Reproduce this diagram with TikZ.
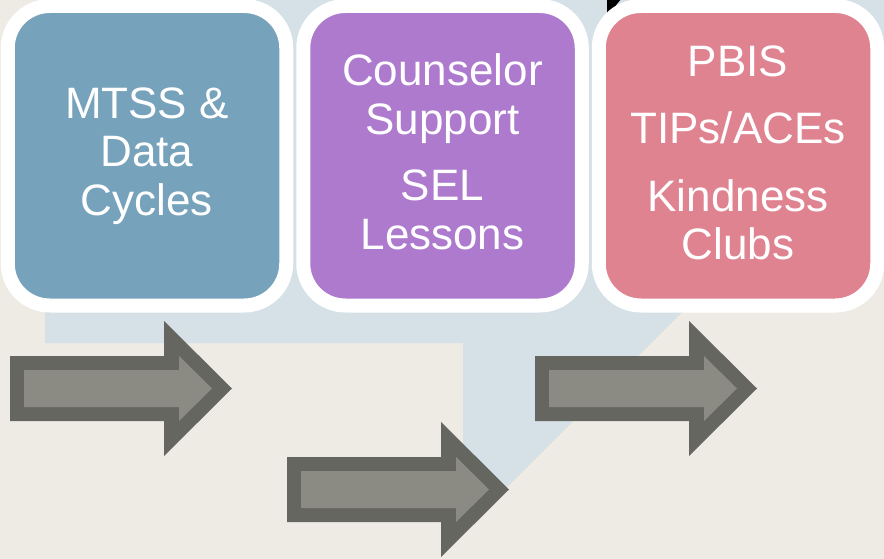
\documentclass[tikz,border=0pt]{standalone}
\usepackage{fontspec}
\setmainfont{Liberation Sans}
\definecolor{bgbeige}{HTML}{EEEBE4}
\definecolor{bandblue}{HTML}{D5E0E7}
\definecolor{boxblue}{HTML}{76A2BB}
\definecolor{boxpurple}{HTML}{AE7ACE}
\definecolor{boxpink}{HTML}{E08391}
\definecolor{arrdark}{HTML}{666661}
\definecolor{arrlight}{HTML}{8B8B84}
\tikzset{
  card/.style={draw=white, line width=14pt, rounded corners=42pt,
    minimum width=278.5pt, minimum height=299.5pt, inner sep=0pt,
    text=white, align=center,
    font=\fontsize{44pt}{48.5pt}\selectfont},
  pics/blockarrow/.style={code={
    \fill[arrdark] (0,0) -- (154,0) -- (154,-35) -- (222,32.5) -- (154,100)
      -- (154,65) -- (0,65) -- cycle;
    \fill[arrlight] (14,14) -- (169,14) -- (169,0) -- (202,32.5) -- (169,65)
      -- (169,51) -- (14,51) -- cycle;
  }}
}
\begin{document}
\begin{tikzpicture}[x=1pt,y=-1pt]
\useasboundingbox (0,0) rectangle (884,559);
\clip (0,0) rectangle (884,559);
\fill[bgbeige] (0,0) rectangle (884,559);
% light blue background shape
\fill[bandblue] (45,-10) -- (1004,-10) -- (463,531) -- (463,343) -- (45,343) -- cycle;
% small black triangle
\fill[black] (607,-2) -- (622,-2) -- (607,16) -- cycle;
% cards
\node[card, fill=boxblue] (c1) at (147,155.75) {MTSS \&\\Data\\Cycles};
\node[card, fill=boxpurple, text depth=8pt] (c2) at (442.5,155.75) {Counselor\\Support\\[18pt]SEL\\Lessons};
\node[card, fill=boxpink, text depth=6pt] (c3) at (738,155.75) {PBIS\\[19pt]TIPs/ACEs\\[19pt]Kindness\\Clubs};
% block arrows
\pic at (10,356) {blockarrow};
\pic at (287,457) {blockarrow};
\pic at (535,356) {blockarrow};
\end{tikzpicture}
\end{document}
